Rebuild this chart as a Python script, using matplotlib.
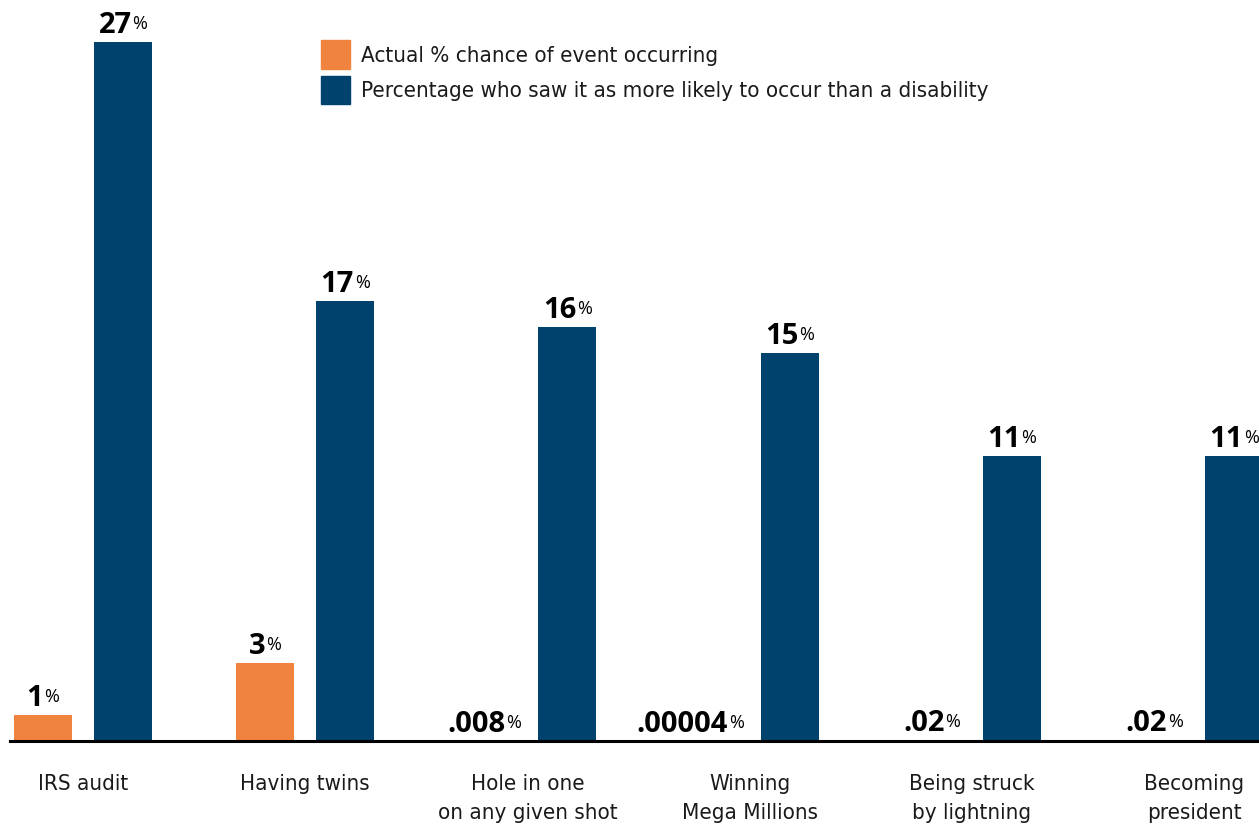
import matplotlib
matplotlib.use('Agg')
import matplotlib.pyplot as plt
from matplotlib.patches import Patch
from matplotlib import font_manager as fm
import numpy as np

categories = ['IRS audit', 'Having twins', 'Hole in one\non any given shot',
              'Winning\nMega Millions', 'Being struck\nby lightning', 'Becoming\npresident']
actual_pct = [1, 3, 0.008, 0.00004, 0.02, 0.02]
actual_labels = ['1', '3', '.008', '.00004', '.02', '.02']
perceived_pct = [27, 17, 16, 15, 11, 11]
perceived_labels = ['27', '17', '16', '15', '11', '11']
series_names = ['Actual % chance of event occurring',
                'Percentage who saw it as more likely to occur than a disability']

ORANGE = '#F0833E'
BLUE = '#00426E'
NUM_FONT = ['Open Sans', 'DejaVu Sans']

# condensed text font if available
cond = [f for f in fm.fontManager.ttflist if f.name == 'DejaVu Sans' and f.stretch == 'condensed'
        and f.weight in (400, 'normal') and f.style == 'normal']
if cond:
    TEXT_PROP = dict(fname=cond[0].fname)
else:
    TEXT_PROP = dict(family=['DejaVu Sans'], stretch='condensed')

W, H = 1259, 832
fig = plt.figure(figsize=(W / 100, H / 100), dpi=100)
ax = fig.add_axes([10 / W, 91 / H, 1 - 10 / W, 1 - 91 / H])
ax.patch.set_visible(False)

x = np.arange(len(categories))
off, bw = 0.18, 0.261
bars_a = ax.bar(x - off, actual_pct, bw, color=ORANGE, label=series_names[0])
bars_p = ax.bar(x + off, perceived_pct, bw, color=BLUE, label=series_names[1])

ax.set_xlim(-0.3285, 5.2925)
ax.set_ylim(0, 741 / 25.9)
for s in ['top', 'right', 'left']:
    ax.spines[s].set_visible(False)
ax.spines['bottom'].set_linewidth(2.2)
ax.spines['bottom'].set_color('black')
ax.set_yticks([])
ax.set_xticks(x)
ax.set_xticklabels(categories, fontproperties=fm.FontProperties(size=16, **TEXT_PROP),
                   linespacing=1.55, color='#1a1a1a')
ax.tick_params(axis='x', length=0, pad=24)

# value labels
pairs = []
for bars, labels in ((bars_a, actual_labels), (bars_p, perceived_labels)):
    for rect, lab in zip(bars, labels):
        xc = rect.get_x() + rect.get_width() / 2
        val = rect.get_height()
        num = ax.annotate(lab, xy=(xc, val), xytext=(0, 9), textcoords='offset pixels',
                          ha='left', va='baseline', fontsize=21, fontweight='bold',
                          family=NUM_FONT, color='black')
        pct = ax.annotate('%', xy=(1, 1), xycoords=num, xytext=(1, -4),
                          textcoords='offset pixels', ha='left', va='top',
                          fontsize=13, family=NUM_FONT, color='black')
        pairs.append((rect, num, pct))

fig.canvas.draw()
r = fig.canvas.get_renderer()
for rect, num, pct in pairs:
    wn = num.get_window_extent(r).width
    wp = pct.get_window_extent(r).width
    w = wn + 1 + wp
    x0 = ax.transData.transform((rect.get_x(), 0))[0]
    x1 = ax.transData.transform((rect.get_x() + rect.get_width(), 0))[0]
    c = (x0 + x1) / 2
    left = c - w / 2
    if left + w > x1 + 5:
        left = x1 + 5 - w
    num.set_position((left - c, 9))

handles = [Patch(color=ORANGE), Patch(color=BLUE)]
leg = ax.legend(handles, series_names, loc='upper left', bbox_to_anchor=(321 / W, 1 - 40 / H),
                bbox_transform=fig.transFigure, frameon=False, borderpad=0, borderaxespad=0,
                handlelength=1.31, handleheight=1.6, handletextpad=0.5, labelspacing=0.33,
                prop=fm.FontProperties(size=16, **TEXT_PROP))
for t in leg.get_texts():
    t.set_color('#1a1a1a')

fig.savefig('out.png', dpi=100)
